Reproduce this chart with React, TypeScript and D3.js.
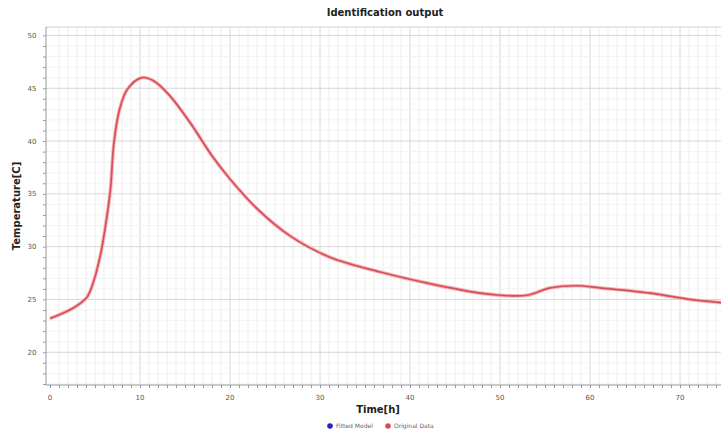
import React, { useEffect, useRef } from "react";
import * as d3 from "d3";

const width = 721;
const height = 433;
const margin = { top: 27, right: 0, bottom: 48, left: 46 };
const red = "#d94f59";
const blue = "#2323c8";

// time [h] and temperature [C]
const timeH = [0, 2.6, 4.1, 4.8, 5.6, 6.1, 6.7, 7.1, 7.7, 8.6, 10.2, 11.5, 13.3, 15.6, 18, 20, 23, 26.7, 31.1, 36.7, 42.2, 47.8, 50, 53, 55.6, 58.6, 61.1, 66.7, 71.1, 74.6];
const tempC = [23.2, 24.2, 25.2, 26.6, 29.2, 31.6, 35.3, 39.8, 42.9, 44.9, 46.0, 45.7, 44.3, 41.7, 38.6, 36.4, 33.6, 31.0, 29.0, 27.6, 26.5, 25.6, 25.4, 25.4, 26.1, 26.3, 26.1, 25.6, 25.0, 24.7];
const xTicks = [0, 10, 20, 30, 40, 50, 60, 70];
const yTicks = [20, 25, 30, 35, 40, 45, 50];
const legendItems = [
  { name: "Fitted Model", color: blue },
  { name: "Original Data", color: red }
];

export default function App() {
  const ref = useRef<SVGSVGElement>(null);

  useEffect(() => {
    const svg = d3.select(ref.current);
    svg.selectAll("*").remove();

    const x = d3.scaleLinear().domain([0, 75]).range([50, 725]);
    const y = d3.scaleLinear().domain([16.9, 50.8]).range([height - margin.bottom, margin.top]);
    const left = margin.left;
    const right = width - margin.right;
    const top = margin.top;
    const bottom = height - margin.bottom;

    const font = "Verdana, 'DejaVu Sans', sans-serif";

    svg.append("rect").attr("width", width).attr("height", height).attr("fill", "#fff");

    // title
    svg.append("text")
      .attr("x", 385).attr("y", 16)
      .attr("text-anchor", "middle")
      .attr("font-family", font).attr("font-size", 10).attr("font-weight", "bold")
      .attr("fill", "#222")
      .text("Identification output");

    const grid = svg.append("g");
    // minor vertical grid every 1 h
    grid.selectAll("line.vx")
      .data(d3.range(1, 75))
      .join("line")
      .attr("x1", d => x(d)).attr("x2", d => x(d))
      .attr("y1", top).attr("y2", bottom)
      .attr("stroke", d => (d % 10 === 0 ? "#d8d8d8" : "#ececec"))
      .attr("stroke-width", 1);
    // minor horizontal grid every 1 C
    grid.selectAll("line.hy")
      .data(d3.range(17, 51))
      .join("line")
      .attr("x1", left).attr("x2", right)
      .attr("y1", d => y(d)).attr("y2", d => y(d))
      .attr("stroke", d => (d % 5 === 0 ? "#d8d8d8" : "#f3f3f3"))
      .attr("stroke-width", 1);

    // frame top
    svg.append("line")
      .attr("x1", left).attr("x2", right).attr("y1", top).attr("y2", top)
      .attr("stroke", "#d0d0d0");

    // axes
    const xAxis = d3.axisBottom(x).tickValues(d3.range(0, 75)).tickSize(3).tickFormat(() => "");
    const gx = svg.append("g").attr("transform", `translate(0, ${bottom})`).call(xAxis);
    gx.select(".domain").attr("d", `M${left},0H${right}`);
    gx.selectAll(".tick line").attr("stroke", "#999");
    gx.select(".domain").attr("stroke", "#999");
    gx.selectAll("text.xl")
      .data(xTicks)
      .join("text")
      .attr("x", d => x(d)).attr("y", 15)
      .attr("text-anchor", "middle")
      .attr("font-family", font).attr("font-size", 7).attr("fill", "#555")
      .text(d => d);

    const yAxis = d3.axisLeft(y).tickValues(d3.range(17, 51)).tickSize(3).tickFormat(() => "");
    const gy = svg.append("g").attr("transform", `translate(${left}, 0)`).call(yAxis);
    gy.select(".domain").attr("d", `M0,${top}V${bottom}`).attr("stroke", "#999");
    gy.selectAll(".tick line").attr("stroke", "#999");
    gy.selectAll("text.yl")
      .data(yTicks)
      .join("text")
      .attr("x", -14).attr("y", d => y(d) + 2.5)
      .attr("text-anchor", "middle")
      .attr("font-family", font).attr("font-size", 7).attr("fill", "#555")
      .text(d => d);

    // axis titles
    svg.append("text")
      .attr("x", 378).attr("y", 413)
      .attr("text-anchor", "middle")
      .attr("font-family", font).attr("font-size", 10).attr("font-weight", "bold")
      .attr("fill", "#222")
      .text("Time[h]");
    svg.append("text")
      .attr("transform", `translate(20, ${(top + bottom) / 2}) rotate(-90)`)
      .attr("text-anchor", "middle")
      .attr("font-family", font).attr("font-size", 10).attr("font-weight", "bold")
      .attr("fill", "#222")
      .text("Temperature[C]");

    // curve
    const points: [number, number][] = timeH.map((t, i) => [t, tempC[i]]);
    const line = d3.line<[number, number]>()
      .x(d => x(d[0]))
      .y(d => y(d[1]))
      .curve(d3.curveCatmullRom.alpha(0.5));
    svg.append("path")
      .datum(points)
      .attr("d", line)
      .attr("fill", "none")
      .attr("stroke", "#f4b3b8")
      .attr("stroke-width", 3.6)
      .attr("stroke-linejoin", "round");
    svg.append("path")
      .datum(points)
      .attr("d", line)
      .attr("fill", "none")
      .attr("stroke", red)
      .attr("stroke-width", 1.7)
      .attr("stroke-linejoin", "round");

    // legend
    const legendX = [330, 388];
    const lg = svg.append("g").selectAll("g")
      .data(legendItems)
      .join("g")
      .attr("transform", (_d, i) => `translate(${legendX[i]}, 426)`);
    lg.append("circle").attr("r", 2.8).attr("fill", d => d.color);
    lg.append("text")
      .attr("x", 6).attr("y", 2.2)
      .attr("font-family", font).attr("font-size", 6).attr("fill", "#666")
      .text(d => d.name);
  }, []);

  return <svg ref={ref} width={width} height={height} style={{ display: "block", position: "absolute", left: 0, top: 0 }} />;
}
